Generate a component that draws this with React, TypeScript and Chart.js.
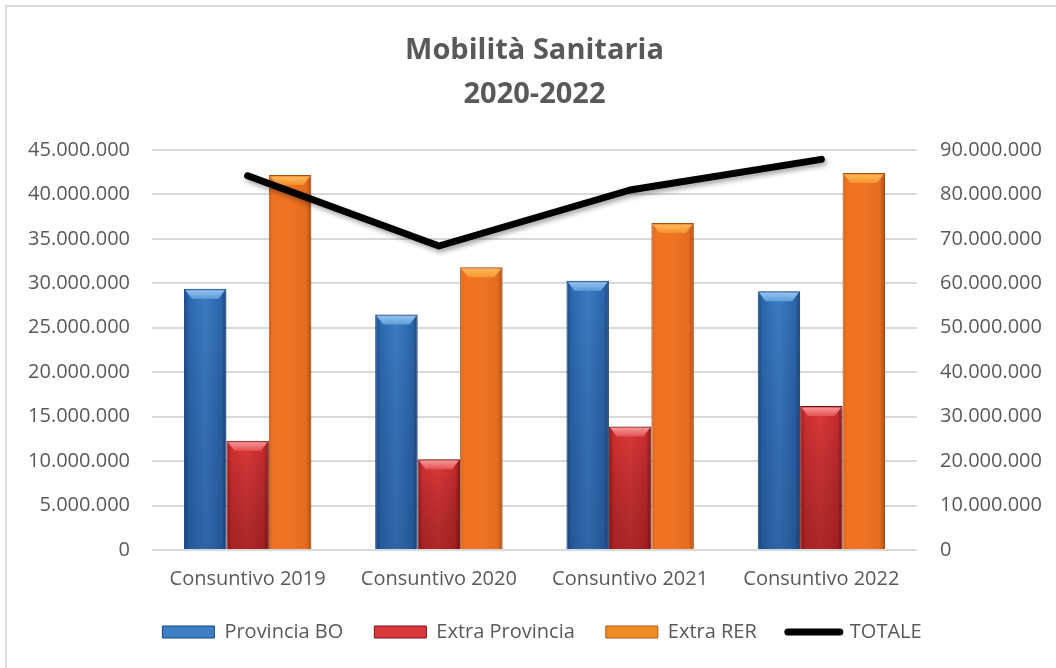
import React, { useEffect, useRef } from 'react';
import { Chart, registerables } from 'chart.js';

Chart.register(...registerables);

// ---- data ----
const categories = ['Consuntivo 2019', 'Consuntivo 2020', 'Consuntivo 2021', 'Consuntivo 2022'];
const seriesNames = ['Provincia BO', 'Extra Provincia', 'Extra RER', 'TOTALE'];
const provinciaBO = [29400000, 26500000, 30300000, 29100000];
const extraProvincia = [12300000, 10200000, 13900000, 16200000];
const extraRER = [42200000, 31800000, 36800000, 42400000];
const totale = [84200000, 68400000, 81000000, 87900000];
const titleLines = ['Mobilità Sanitaria', '2020-2022'];
const leftMax = 45000000;
const leftStep = 5000000;
const rightMax = 90000000;
const rightStep = 10000000;

// ---- styles ----
const TEXT = '#595959';
const FONT = "'Open Sans', 'Noto Sans', sans-serif";
const CAT_PCT = 0.666;

const BAR_STOPS: [number, string][][] = [
  [[0, '#1b4c88'], [0.12, '#2c68b0'], [0.5, '#3b7bc4'], [0.88, '#2c66ab'], [1, '#1a4780']],
  [[0, '#9a1a1c'], [0.12, '#d03032'], [0.5, '#dc3838'], [0.88, '#c62d2f'], [1, '#8a1618']],
  [[0, '#d8641c'], [0.1, '#ee7222'], [0.5, '#f07424'], [0.88, '#e46b1f'], [1, '#b2500f']],
];
const BAR_BORDER = ['#17457c', '#7a1214', '#b4520f'];
const BEVEL = [
  ['#9ccaf5', '#5d9ddb'],
  ['#f7a0a0', '#e55252'],
  ['#ffc060', '#f7922f'],
];
const BOTTOM_SHADE = ['rgba(10,30,70,0.22)', 'rgba(70,0,0,0.3)', 'rgba(0,0,0,0)'];
const LEGEND_FILL = ['#3f7fc8', '#d9393b', '#f28a26'];

const fmt = (v: number) => String(Math.round(v)).replace(/\B(?=(\d{3})+(?!\d))/g, '.');

function barFill(idx: number) {
  return (ctx: any) => {
    const stops = BAR_STOPS[idx];
    const chart = ctx.chart;
    const xs = chart.scales && chart.scales.x;
    if (!xs || !xs.width || ctx.type !== 'data') return stops[2][1];
    const center = xs.getPixelForValue(ctx.dataIndex);
    const catW = xs.width / categories.length;
    const groupW = catW * CAT_PCT;
    const barW = groupW / 3;
    const left = center - groupW / 2 + idx * barW;
    const g = chart.ctx.createLinearGradient(left, 0, left + barW, 0);
    stops.forEach(([o, c]) => g.addColorStop(o, c));
    return g;
  };
}

const barDecor = {
  id: 'barDecor',
  beforeDatasetDraw(chart: any, args: any) {
    const c = chart.ctx;
    c.save();
    if (args.meta.type === 'line') {
      c.shadowColor = 'rgba(0,0,0,0.35)';
      c.shadowBlur = 5;
      c.shadowOffsetX = 2;
      c.shadowOffsetY = 3;
    } else {
      c.shadowColor = 'rgba(0,0,0,0.18)';
      c.shadowBlur = 4;
      c.shadowOffsetX = 3;
      c.shadowOffsetY = 1;
    }
  },
  afterDatasetDraw(chart: any, args: any) {
    const c = chart.ctx;
    c.restore();
    if (args.meta.type !== 'bar') return;
    const idx = args.index;
    c.save();
    args.meta.data.forEach((el: any) => {
      const { x, y, width, base } = el.getProps(['x', 'y', 'width', 'base'], true);
      const l = x - width / 2;
      const r = x + width / 2;
      const sg = c.createLinearGradient(0, y, 0, base);
      sg.addColorStop(0, 'rgba(0,0,0,0)');
      sg.addColorStop(1, BOTTOM_SHADE[idx]);
      c.fillStyle = sg;
      c.fillRect(l + 1, y + 1, width - 2, base - y - 1);
      const bg = c.createLinearGradient(0, y, 0, y + 10);
      bg.addColorStop(0, BEVEL[idx][0]);
      bg.addColorStop(1, BEVEL[idx][1]);
      c.fillStyle = bg;
      c.beginPath();
      c.moveTo(l + 1.5, y + 1.5);
      c.lineTo(r - 1.5, y + 1.5);
      c.lineTo(r - 8, y + 10);
      c.lineTo(l + 8, y + 10);
      c.closePath();
      c.fill();
    });
    c.restore();
  },
  afterLayout(chart: any) {
    const lg = chart.legend;
    if (lg) {
      lg.left += 14;
      lg.right += 14;
    }
  },
};

export default function App() {
  const ref = useRef<HTMLCanvasElement | null>(null);

  useEffect(() => {
    if (!ref.current) return;
    const barData = [provinciaBO, extraProvincia, extraRER];
    const datasets: any[] = barData.map((d, i) => ({
      type: 'bar',
      label: seriesNames[i],
      data: d,
      yAxisID: 'y',
      backgroundColor: barFill(i),
      borderColor: BAR_BORDER[i],
      borderWidth: 1,
      barPercentage: 1,
      categoryPercentage: CAT_PCT,
      order: 1,
    }));
    datasets.push({
      type: 'line',
      label: seriesNames[3],
      data: totale,
      yAxisID: 'y1',
      borderColor: '#000000',
      backgroundColor: '#000000',
      borderWidth: 7,
      pointRadius: 0,
      borderCapStyle: 'round',
      borderJoinStyle: 'round',
      tension: 0,
      order: 0,
    });

    const chart = new Chart(ref.current, {
      type: 'bar',
      data: { labels: categories, datasets },
      plugins: [barDecor],
      options: {
        animation: false,
        responsive: false,
        devicePixelRatio: 1,
        layout: { padding: { top: 0, left: 0, right: 0, bottom: 16 } },
        plugins: {
          tooltip: { enabled: false },
          title: {
            display: true,
            text: titleLines,
            color: TEXT,
            fullSize: false,
            font: { family: FONT, size: 29, weight: 'bold', lineHeight: 1.5 },
            padding: { top: 29, bottom: 34 },
          },
          legend: {
            position: 'bottom',
            align: 'center',
            fullSize: true,
            labels: {
              color: TEXT,
              font: { family: FONT, size: 20 },
              usePointStyle: true,
              pointStyleWidth: 52,
              boxHeight: 12,
              boxWidth: 52,
              padding: 31,
              generateLabels: (ch: any) => {
                const items = (Chart.defaults.plugins.legend.labels as any).generateLabels(ch);
                items.sort((a: any, b: any) => a.datasetIndex - b.datasetIndex);
                return items.map((it: any) => {
                  if (it.datasetIndex === 3) {
                    return { ...it, pointStyle: 'line', strokeStyle: '#000', fillStyle: '#000', lineWidth: 7, lineCap: 'round' };
                  }
                  return {
                    ...it,
                    pointStyle: 'rect',
                    fillStyle: LEGEND_FILL[it.datasetIndex],
                    strokeStyle: BAR_BORDER[it.datasetIndex],
                    lineWidth: 1,
                  };
                });
              },
            },
          },
        },
        scales: {
          x: {
            grid: { display: false },
            border: { display: false },
            ticks: { color: TEXT, font: { family: FONT, size: 20 }, padding: 9 },
            afterFit: (s: any) => { s.height = 41; },
          },
          y: {
            position: 'left',
            min: 0,
            max: leftMax,
            border: { display: false },
            grid: { color: '#d9d9d9', lineWidth: 2, drawTicks: false },
            ticks: {
              stepSize: leftStep,
              color: TEXT,
              padding: 22,
              font: { family: FONT, size: 20 },
              callback: (v: any) => fmt(Number(v)),
            },
            afterFit: (s: any) => { s.width = 152; },
          },
          y1: {
            position: 'right',
            min: 0,
            max: rightMax,
            border: { display: false },
            grid: { display: false, drawTicks: false },
            ticks: {
              stepSize: rightStep,
              color: TEXT,
              padding: 23,
              font: { family: FONT, size: 20 },
              callback: (v: any) => fmt(Number(v)),
            },
            afterFit: (s: any) => { s.width = 139; },
          },
        },
      } as any,
    });
    return () => chart.destroy();
  }, []);

  return (
    <div style={{ position: 'absolute', left: 0, top: 0, width: 1056, height: 668, overflow: 'hidden', background: '#ffffff' }}>
      <div
        style={{
          position: 'absolute',
          left: 5,
          top: 5,
          width: 2000,
          height: 2000,
          borderTop: '2px solid #d9d9d9',
          borderLeft: '2px solid #d9d9d9',
        }}
      />
      <canvas ref={ref} width={1056} height={668} style={{ position: 'absolute', left: 0, top: 0, width: 1056, height: 668 }} />
    </div>
  );
}
